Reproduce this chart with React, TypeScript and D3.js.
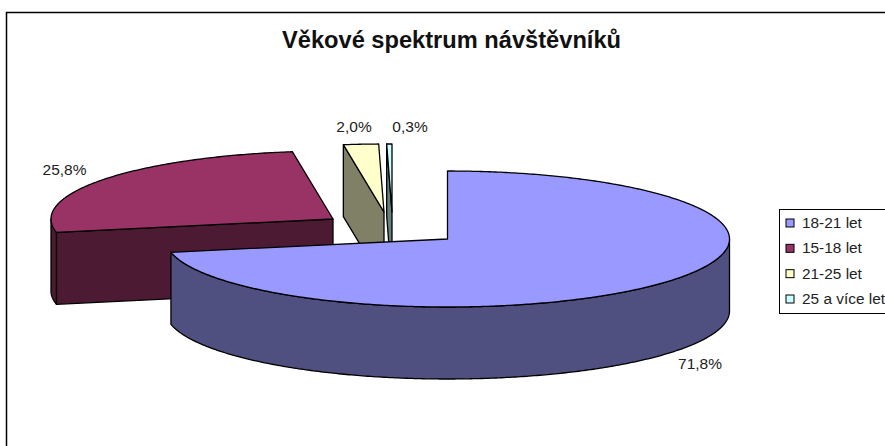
import React from "react";
import * as d3 from "d3";

const categories = ["18-21 let", "15-18 let", "21-25 let", "25 a více let"];
const shares = [71.8, 25.8, 2.0, 0.3];
const shareLabels = ["71,8%", "25,8%", "2,0%", "0,3%"];
const topColors = ["#9999FF", "#993366", "#FFFFCC", "#CCFFFF"];
const wallColors = ["#4F4F80", "#4D1A33", "#808066", "#668080"];
const centerX = [447.5, 333, 384, 392];
const centerY = [239, 219, 212, 212];
const labelX = [700, 64.5, 354, 410];
const labelBase = [369, 175, 132, 132];
const paintOrder = [1, 2, 3, 0];

const RX = 282, RY = 68, DEPTH = 72;
const ux = d3.scaleLinear().domain([-1, 1]).range([-RX, RX]);
const uy = d3.scaleLinear().domain([-1, 1]).range([-RY, RY]);

const pie = d3.pie<number>().sort(null).startAngle(0).endAngle(2 * Math.PI);
const arcs = pie(shares);
const line = d3.line();

function arcPts(i: number, a0: number, a1: number, dy = 0): [number, number][] {
  const n = Math.max(2, Math.ceil(Math.abs(a1 - a0) / 0.01));
  return d3.range(n + 1).map((k) => {
    const a = a0 + ((a1 - a0) * k) / n;
    return [centerX[i] + ux(Math.sin(a)), centerY[i] + dy + uy(-Math.cos(a))] as [number, number];
  });
}

export default function App() {
  return (
    <svg width={885} height={446} style={{ position: "absolute", left: 0, top: 0, background: "#fff" }} fontFamily="'Liberation Sans', Arial, sans-serif">
      <path d="M6.5 446V12.5H885" fill="none" stroke="#000" strokeWidth={1.5} />
      <text x={451.5} y={48} textAnchor="middle" fontSize={23.5} fontWeight="bold" fill="#111" textLength={339} lengthAdjust="spacingAndGlyphs">Věkové spektrum návštěvníků</text>
      {paintOrder.map((i) => {
        const a0 = arcs[i].startAngle, a1 = arcs[i].endAngle;
        const c: [number, number] = [centerX[i], centerY[i]];
        const vis0 = Math.max(a0, Math.PI / 2), vis1 = Math.min(a1, 1.5 * Math.PI);
        const top = arcPts(i, a0, a1);
        const s = top[0];
        return (
          <g key={i} stroke="#000" strokeWidth={1.3} strokeLinejoin="round">
            {a0 > Math.PI && (
              <path d={line([c, s, [s[0], s[1] + DEPTH], [c[0], c[1] + DEPTH]])! + "Z"} fill={wallColors[i]} />
            )}
            {vis1 > vis0 && (
              <path d={line([...arcPts(i, vis0, vis1), ...arcPts(i, vis1, vis0, DEPTH)])! + "Z"} fill={wallColors[i]} />
            )}
            <path d={line([c, ...top])! + "Z"} fill={topColors[i]} />
          </g>
        );
      })}
      {shareLabels.map((t, i) => (
        <text key={t} x={labelX[i]} y={labelBase[i]} textAnchor="middle" fontSize={15.5} fill="#222">{t}</text>
      ))}
      <rect x={779.5} y={209.5} width={120} height={104} fill="#fff" stroke="#000" strokeWidth={1} />
      {categories.map((t, i) => {
        const y = d3.scaleLinear().domain([0, 3]).range([223, 299])(i);
        return (
          <g key={t}>
            <rect x={786} y={y - 4} width={8} height={8} fill={topColors[i]} stroke="#000" strokeWidth={1} />
            <text x={802} y={y + 5} fontSize={15.4} fill="#222">{t}</text>
          </g>
        );
      })}
    </svg>
  );
}
